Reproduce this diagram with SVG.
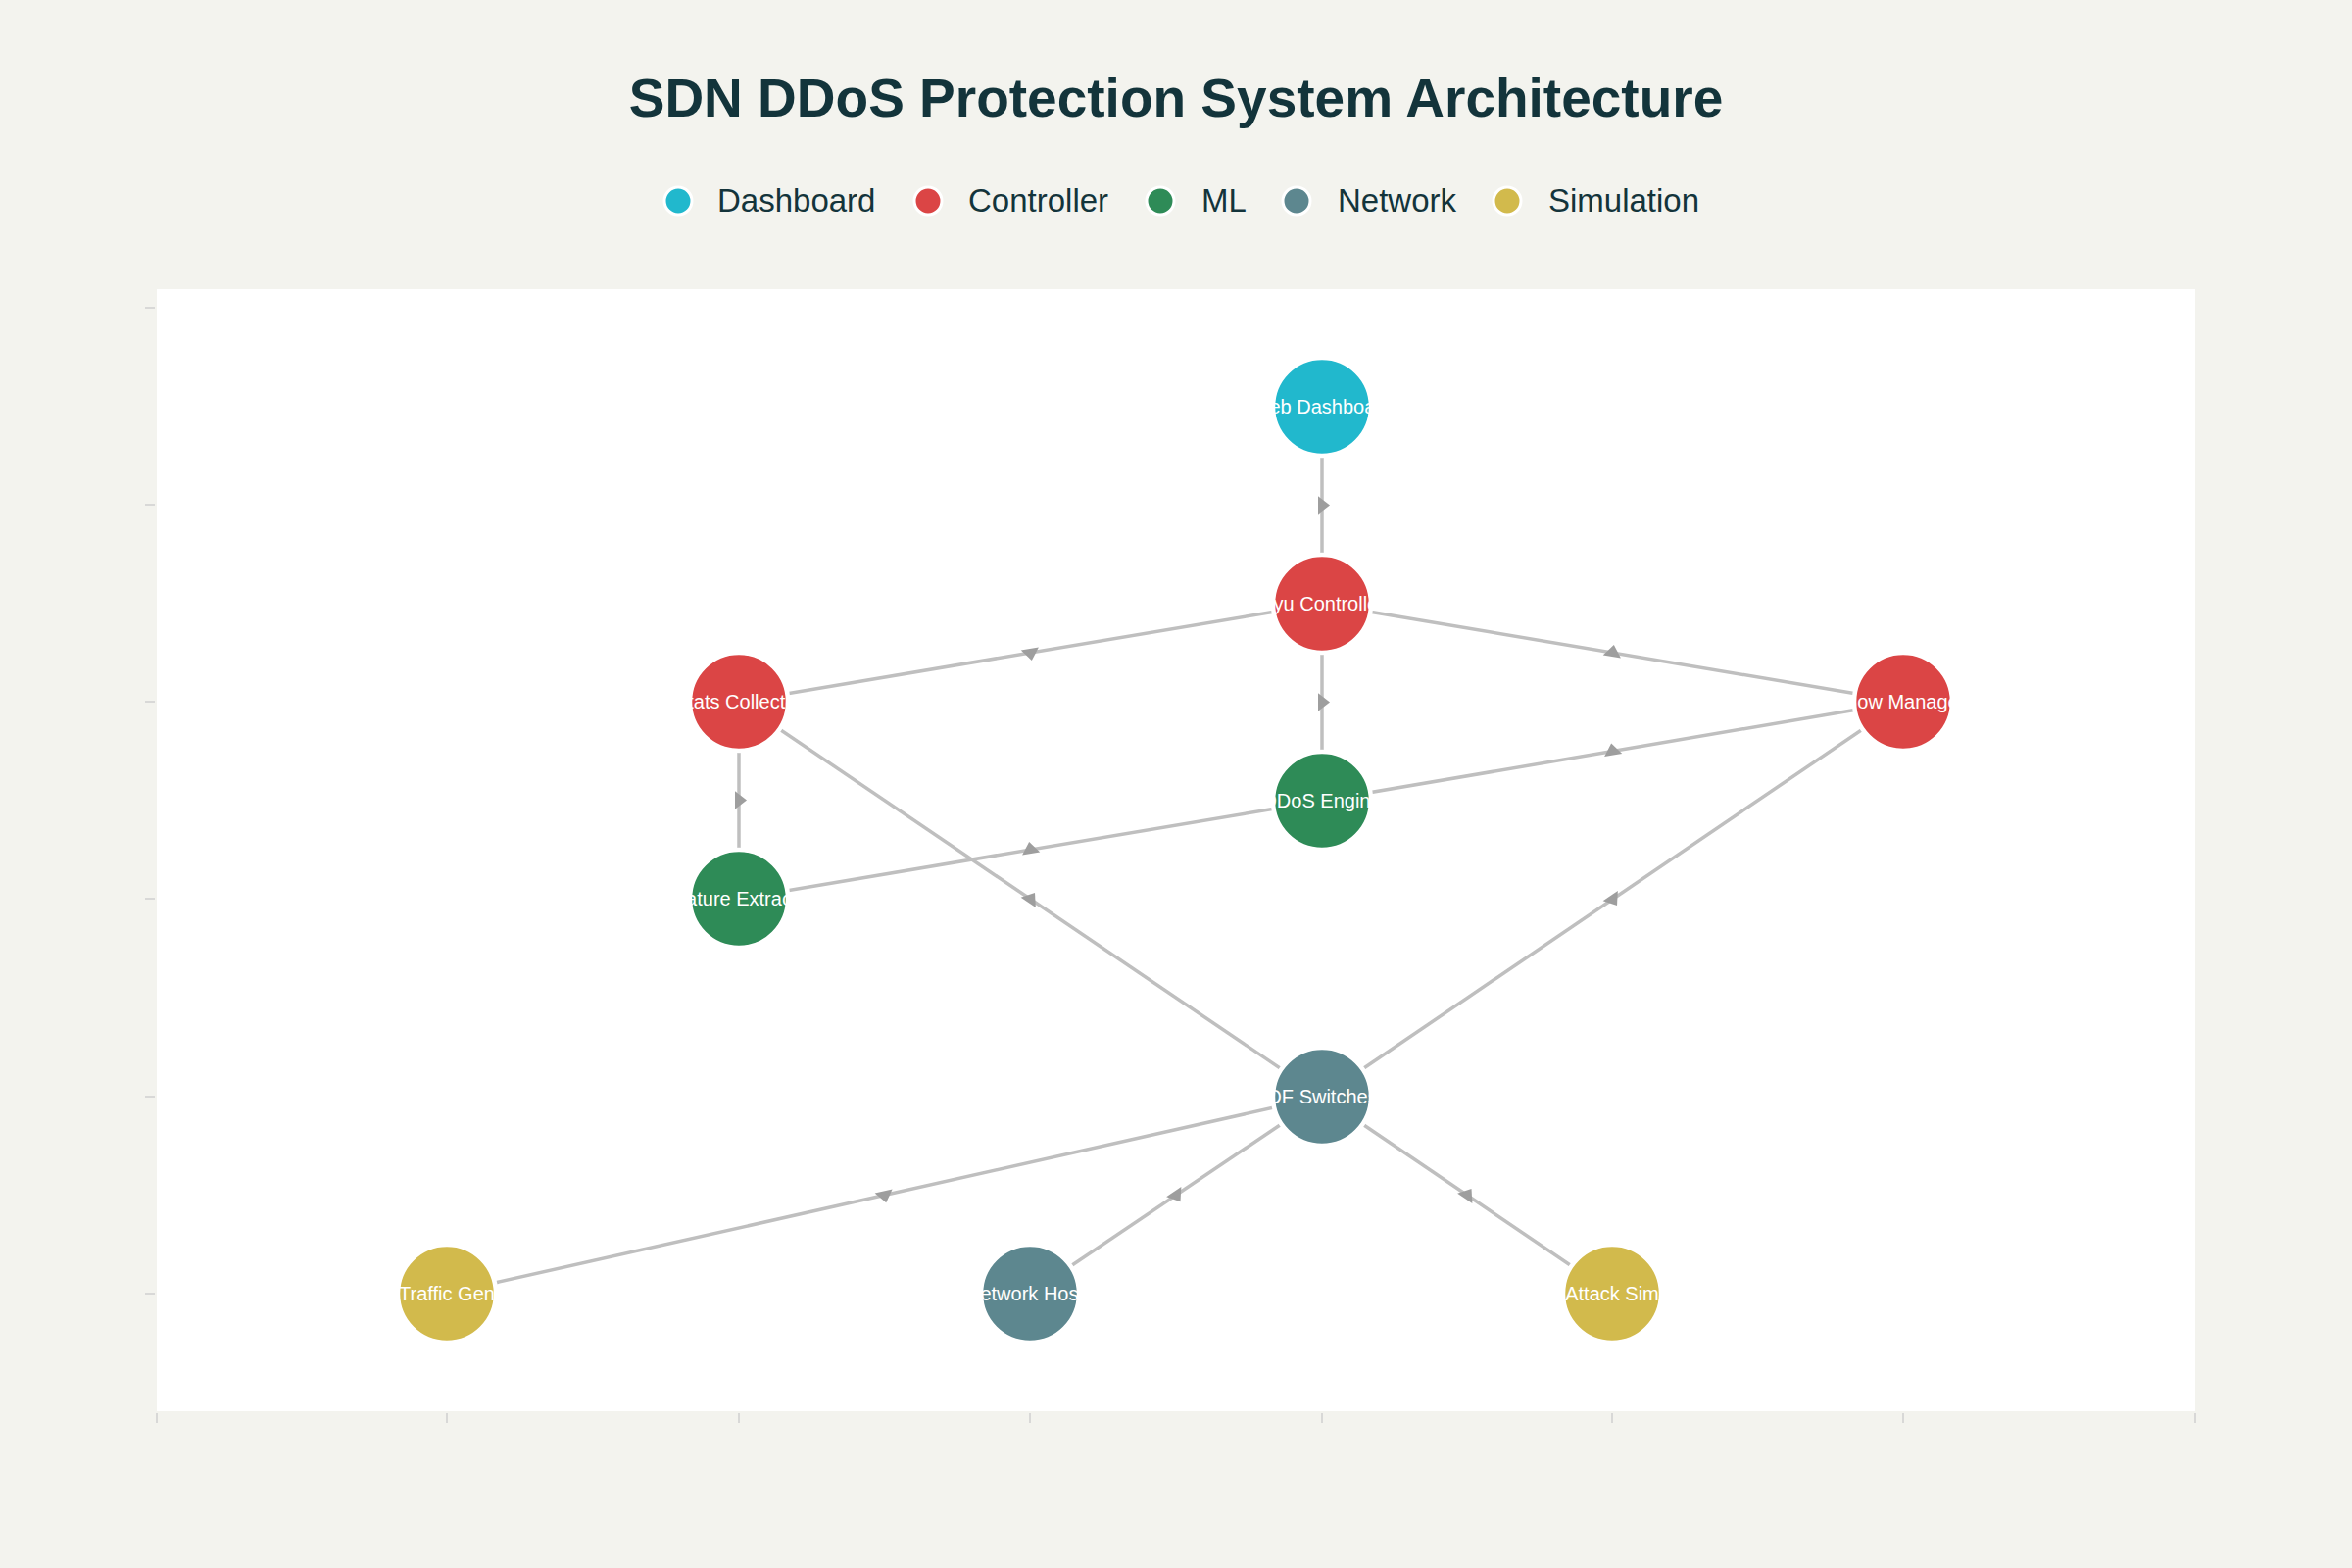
<svg xmlns="http://www.w3.org/2000/svg" width="2400" height="1600" viewBox="0 0 2400 1600">
<defs>
<style>
.bg{fill:#F3F3EE}
.plot{fill:#FFFFFF}
.tick{stroke:#CFCFCF;stroke-width:1.5}
.title{font-family:"Liberation Sans",Arial,sans-serif;font-weight:bold;font-size:55px;fill:#13343B}
.leg{font-family:"Liberation Sans",Arial,sans-serif;font-size:33px;fill:#13343B}
.edge{stroke:#BFBFBF;stroke-width:3.5;fill:none}
.arr{fill:#9E9E9E}
.node circle{stroke:#FFFFFF;stroke-width:4.5}
.node text{font-family:"Liberation Sans",Arial,sans-serif;font-size:20px;fill:#FFFFFF;text-anchor:middle}
.c-dash{fill:#21B8CD}
.c-ctrl{fill:#DB4545}
.c-ml{fill:#2E8B57}
.c-net{fill:#5D878F}
.c-sim{fill:#D2BA4C}
.lc{stroke:#FFFFFF;stroke-width:3}
</style>
<path id="tri" d="M-9.2,4 H9.2 L0,-8 Z"/>
</defs>
<rect class="bg" x="0" y="0" width="2400" height="1600"/>
<text class="title" x="1200" y="119" text-anchor="middle">SDN DDoS Protection System Architecture</text>
<g id="legend">
<circle class="c-dash lc" cx="692" cy="205" r="14"/>
<text class="leg" x="732" y="216">Dashboard</text>
<circle class="c-ctrl lc" cx="947" cy="205" r="14"/>
<text class="leg" x="988" y="216">Controller</text>
<circle class="c-ml lc" cx="1184" cy="205" r="14"/>
<text class="leg" x="1226" y="216">ML</text>
<circle class="c-net lc" cx="1323" cy="205" r="14"/>
<text class="leg" x="1365" y="216">Network</text>
<circle class="c-sim lc" cx="1538" cy="205" r="14"/>
<text class="leg" x="1580" y="216">Simulation</text>
</g>
<rect class="plot" x="160" y="295" width="2080" height="1145"/>
<g id="axes">
<line class="tick" x1="148" y1="314" x2="158" y2="314"/>
<line class="tick" x1="148" y1="515" x2="158" y2="515"/>
<line class="tick" x1="148" y1="716" x2="158" y2="716"/>
<line class="tick" x1="148" y1="917" x2="158" y2="917"/>
<line class="tick" x1="148" y1="1119" x2="158" y2="1119"/>
<line class="tick" x1="148" y1="1320" x2="158" y2="1320"/>
<line class="tick" x1="160" y1="1442" x2="160" y2="1452"/>
<line class="tick" x1="456" y1="1442" x2="456" y2="1452"/>
<line class="tick" x1="754" y1="1442" x2="754" y2="1452"/>
<line class="tick" x1="1051" y1="1442" x2="1051" y2="1452"/>
<line class="tick" x1="1349" y1="1442" x2="1349" y2="1452"/>
<line class="tick" x1="1645" y1="1442" x2="1645" y2="1452"/>
<line class="tick" x1="1942" y1="1442" x2="1942" y2="1452"/>
<line class="tick" x1="2240" y1="1442" x2="2240" y2="1452"/>
</g>
<g id="connectors">
<line class="edge" x1="1349" y1="415" x2="1349" y2="616"/>
<line class="edge" x1="1349" y1="616" x2="754" y2="716"/>
<line class="edge" x1="1349" y1="616" x2="1942" y2="716"/>
<line class="edge" x1="1349" y1="616" x2="1349" y2="817"/>
<line class="edge" x1="754" y1="716" x2="754" y2="917"/>
<line class="edge" x1="754" y1="917" x2="1349" y2="817"/>
<line class="edge" x1="1349" y1="817" x2="1942" y2="716"/>
<line class="edge" x1="754" y1="716" x2="1349" y2="1119"/>
<line class="edge" x1="1942" y1="716" x2="1349" y2="1119"/>
<line class="edge" x1="1349" y1="1119" x2="456" y2="1320"/>
<line class="edge" x1="1349" y1="1119" x2="1051" y2="1320"/>
<line class="edge" x1="1349" y1="1119" x2="1645" y2="1320"/>
<use href="#tri" class="arr" transform="translate(1349,515.5) rotate(90)"/>
<use href="#tri" class="arr" transform="translate(1051.5,666) rotate(170.46)"/>
<use href="#tri" class="arr" transform="translate(1645.5,666) rotate(9.57)"/>
<use href="#tri" class="arr" transform="translate(1349,716.5) rotate(90)"/>
<use href="#tri" class="arr" transform="translate(754,816.5) rotate(90)"/>
<use href="#tri" class="arr" transform="translate(1051.5,867) rotate(-9.54)"/>
<use href="#tri" class="arr" transform="translate(1645.5,766.5) rotate(-9.67)"/>
<use href="#tri" class="arr" transform="translate(1051.5,917.5) rotate(34.1)"/>
<use href="#tri" class="arr" transform="translate(1645.5,917.5) rotate(145.8)"/>
<use href="#tri" class="arr" transform="translate(902.5,1219.5) rotate(167.3)"/>
<use href="#tri" class="arr" transform="translate(1200,1219.5) rotate(146)"/>
<use href="#tri" class="arr" transform="translate(1497,1219.5) rotate(34.2)"/>
</g>
<g id="node-web-dashboard" class="node"><circle class="c-dash" cx="1349" cy="415" r="50"/><text x="1349" y="422">Web Dashboard</text></g>
<g id="node-ryu-controller" class="node"><circle class="c-ctrl" cx="1349" cy="616" r="50"/><text x="1349" y="623">Ryu Controller</text></g>
<g id="node-stats-collector" class="node"><circle class="c-ctrl" cx="754" cy="716" r="50"/><text x="754" y="723">Stats Collector</text></g>
<g id="node-flow-manager" class="node"><circle class="c-ctrl" cx="1942" cy="716" r="50"/><text x="1942" y="723">Flow Manager</text></g>
<g id="node-ddos-engine" class="node"><circle class="c-ml" cx="1349" cy="817" r="50"/><text x="1349" y="824">DDoS Engine</text></g>
<g id="node-feature-extractor" class="node"><circle class="c-ml" cx="754" cy="917" r="50"/><text x="754" y="924">Feature Extractor</text></g>
<g id="node-of-switches" class="node"><circle class="c-net" cx="1349" cy="1119" r="50"/><text x="1349" y="1126">OF Switches</text></g>
<g id="node-traffic-gen" class="node"><circle class="c-sim" cx="456" cy="1320" r="50"/><text x="456" y="1327">Traffic Gen</text></g>
<g id="node-network-hosts" class="node"><circle class="c-net" cx="1051" cy="1320" r="50"/><text x="1051" y="1327">Network Hosts</text></g>
<g id="node-attack-sim" class="node"><circle class="c-sim" cx="1645" cy="1320" r="50"/><text x="1645" y="1327">Attack Sim</text></g>
</svg>
